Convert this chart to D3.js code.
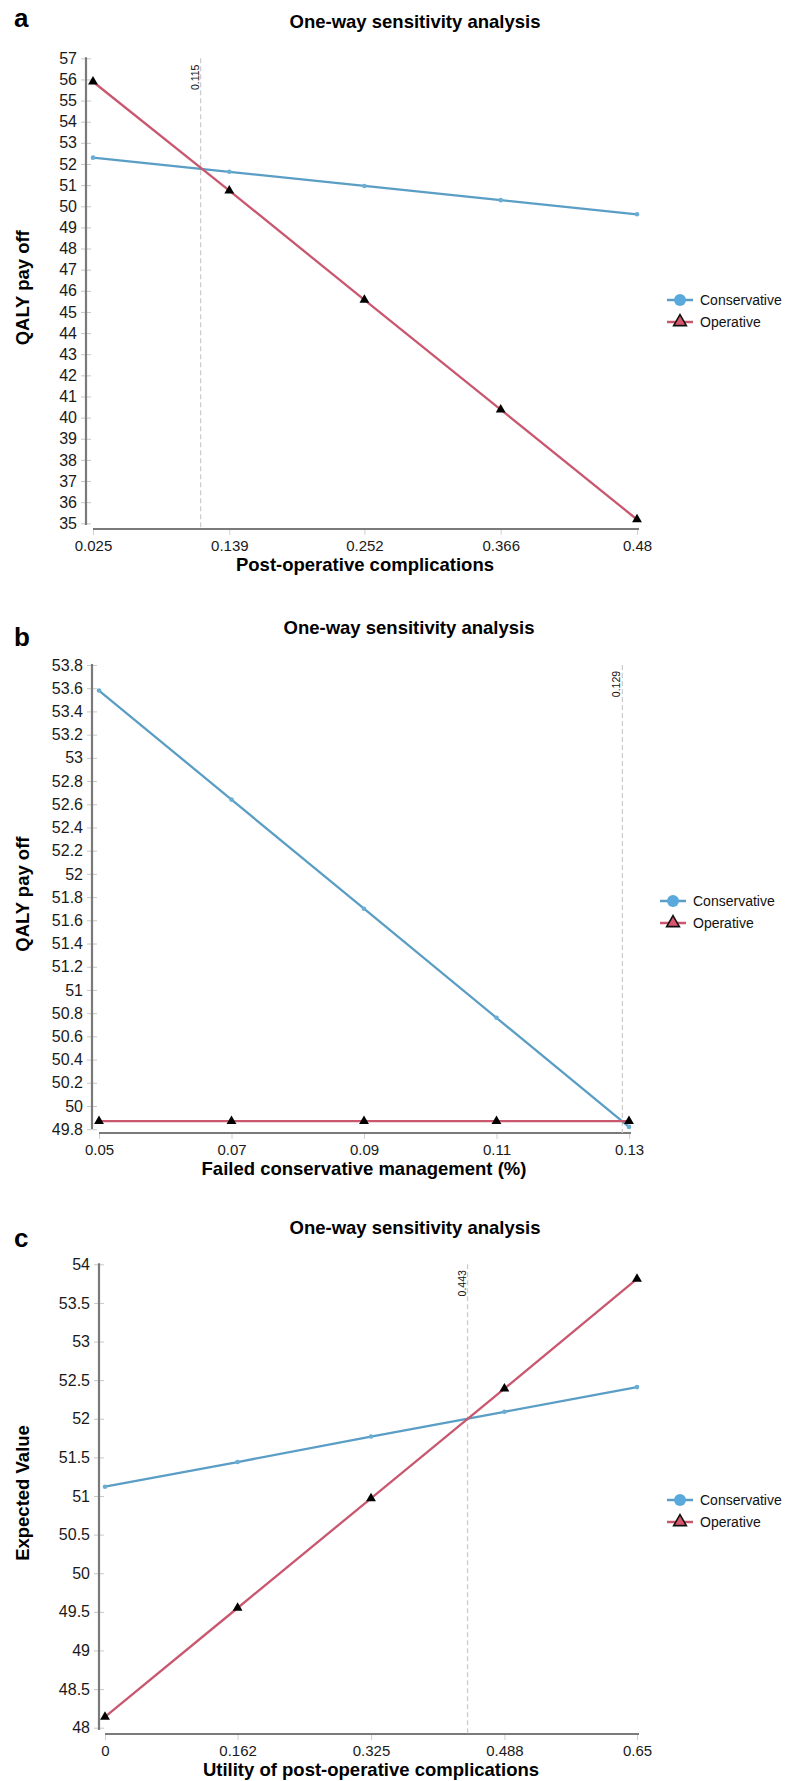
<!DOCTYPE html>
<html>
<head>
<meta charset="utf-8">
<script src="https://cdn.jsdelivr.net/npm/d3@7"></script>
<style>
  body { margin: 0; background: #fff; }
  svg text { font-family: "Liberation Sans", Arial, sans-serif; }
</style>
</head>
<body>
<div class="charts"></div>
<script>
// series names (same in all three panels)
const SERIES = ["Conservative", "Operative"];

// panel a - post-operative complications
const xTicksA = [0.025, 0.139, 0.252, 0.366, 0.48];
const yTicksA = [35, 36, 37, 38, 39, 40, 41, 42, 43, 44, 45, 46, 47, 48, 49, 50, 51, 52, 53, 54, 55, 56, 57];
const consA = [52.30, 51.63, 50.96, 50.29, 49.62];
const operA = [55.89, 50.74, 45.57, 40.38, 35.18];
const breakA = 0.115;

// panel b - failed conservative management
const xTicksB = [0.05, 0.07, 0.09, 0.11, 0.13];
const yTicksB = [49.8, 50, 50.2, 50.4, 50.6, 50.8, 51, 51.2, 51.4, 51.6, 51.8, 52, 52.2, 52.4, 52.6, 52.8, 53, 53.2, 53.4, 53.6, 53.8];
const consB = [53.58, 52.64, 51.70, 50.76, 49.82];
const operB = [49.87, 49.87, 49.87, 49.87, 49.87];
const breakB = 0.129;

// panel c - utility of post-operative complications
const xTicksC = [0, 0.162, 0.325, 0.488, 0.65];
const yTicksC = [48, 48.5, 49, 49.5, 50, 50.5, 51, 51.5, 52, 52.5, 53, 53.5, 54];
const consC = [51.12, 51.44, 51.77, 52.09, 52.41];
const operC = [48.14, 49.55, 50.97, 52.39, 53.81];
const breakC = 0.443;

const COLORS = { Conservative: "#5a9ec5", Operative: "#c9586f" };

const SVG = d3.select(".charts").append("svg")
  .attr("width", 801)
  .attr("height", 1781);

SVG.append("rect").attr("width", 801).attr("height", 1781).attr("fill", "#fff");

const PANELS = [
  { letter: "a", letterY: 27, title: "One-way sensitivity analysis", titleX: 415, titleY: 28,
    xTicks: xTicksA, yTicks: yTicksA, cons: consA, oper: operA, brk: breakA,
    xLabel: "Post-operative complications", yLabel: "QALY pay off",
    axisX: 86, xRange: [93, 637], yRange: [523.3, 58.3], xAxisY: 529,
    legX: 667, legY: 300 },
  { letter: "b", letterY: 646, title: "One-way sensitivity analysis", titleX: 409, titleY: 634,
    xTicks: xTicksB, yTicks: yTicksB, cons: consB, oper: operB, brk: breakB,
    xLabel: "Failed conservative management (%)", yLabel: "QALY pay off",
    axisX: 92, xRange: [99, 629], yRange: [1129.2, 665], xAxisY: 1133,
    legX: 660, legY: 901 },
  { letter: "c", letterY: 1247, title: "One-way sensitivity analysis", titleX: 415, titleY: 1234,
    xTicks: xTicksC, yTicks: yTicksC, cons: consC, oper: operC, brk: breakC,
    xLabel: "Utility of post-operative complications", yLabel: "Expected Value",
    axisX: 99, xRange: [105, 637], yRange: [1727.7, 1264.3], xAxisY: 1734,
    legX: 667, legY: 1500 }
];

function drawPanel(p) {
  const x = d3.scaleLinear()
    .domain([p.xTicks[0], p.xTicks[p.xTicks.length - 1]])
    .range(p.xRange);
  const y = d3.scaleLinear()
    .domain([p.yTicks[0], p.yTicks[p.yTicks.length - 1]])
    .range(p.yRange);
  const g = SVG.append("g");

  // panel letter + title
  g.append("text").attr("x", 14).attr("y", p.letterY)
    .attr("font-size", 26).attr("font-weight", "bold").attr("fill", "#000")
    .text(p.letter);
  g.append("text").attr("x", p.titleX).attr("y", p.titleY)
    .attr("text-anchor", "middle").attr("font-size", 18.5).attr("font-weight", "bold")
    .text(p.title);

  // y axis ticks and labels
  const yAxis = g.append("g")
    .attr("transform", `translate(${p.axisX},0)`)
    .call(d3.axisLeft(y).tickValues(p.yTicks).tickSize(5).tickPadding(4)
      .tickFormat(d => String(+d.toFixed(1))));
  yAxis.select(".domain").remove();
  yAxis.selectAll(".tick line").attr("x1", -5).attr("x2", 5).attr("stroke", "#c8c8c8");
  yAxis.selectAll(".tick text").attr("font-size", 16).attr("fill", "#1a1a1a")
    .attr("font-family", "Liberation Sans, Arial, sans-serif");

  // x axis ticks and labels
  const xAxis = g.append("g")
    .attr("transform", `translate(0,${p.xAxisY})`)
    .call(d3.axisBottom(x).tickValues(p.xTicks).tickSize(6).tickPadding(5)
      .tickFormat(d => String(d)));
  xAxis.select(".domain").remove();
  xAxis.selectAll(".tick line").attr("stroke", "#cfcfcf");
  xAxis.selectAll(".tick text").attr("font-size", 15).attr("fill", "#1a1a1a")
    .attr("font-family", "Liberation Sans, Arial, sans-serif");

  // axis lines (they don't quite meet in the original)
  g.append("line")
    .attr("x1", p.axisX).attr("x2", p.axisX)
    .attr("y1", y.range()[1] - 1).attr("y2", p.xAxisY - 4)
    .attr("stroke", "#7a7a7a").attr("stroke-width", 2.2);
  g.append("line")
    .attr("x1", x.range()[0]).attr("x2", x.range()[1] + 2)
    .attr("y1", p.xAxisY).attr("y2", p.xAxisY)
    .attr("stroke", "#7a7a7a").attr("stroke-width", 2.2);

  // threshold line
  const bx = x(p.brk);
  g.append("line")
    .attr("x1", bx).attr("x2", bx)
    .attr("y1", y.range()[1]).attr("y2", p.xAxisY)
    .attr("stroke", "#cdcdcd").attr("stroke-width", 1.3)
    .attr("stroke-dasharray", "5,3");
  g.append("text")
    .attr("transform", `translate(${bx - 2},${y.range()[1] + 19}) rotate(-90)`)
    .attr("text-anchor", "middle").attr("font-size", 10.5).attr("fill", "#111")
    .text(String(p.brk));

  // axis titles
  g.append("text")
    .attr("x", (p.xRange[0] + p.xRange[1]) / 2).attr("y", p.xAxisY + 42)
    .attr("text-anchor", "middle").attr("font-size", 18.5).attr("font-weight", "bold")
    .text(p.xLabel);
  g.append("text")
    .attr("transform", `translate(29,${(p.yRange[0] + p.yRange[1]) / 2 - 3}) rotate(-90)`)
    .attr("text-anchor", "middle").attr("font-size", 18.5).attr("font-weight", "bold")
    .text(p.yLabel);

  // series lines
  const line = d3.line()
    .x((d, i) => x(p.xTicks[i]))
    .y(d => y(d));
  g.append("path").datum(p.cons)
    .attr("d", line).attr("fill", "none")
    .attr("stroke", COLORS.Conservative).attr("stroke-width", 2.3);
  g.append("path").datum(p.oper)
    .attr("d", line).attr("fill", "none")
    .attr("stroke", COLORS.Operative).attr("stroke-width", 2.3);

  // markers
  g.selectAll(".cdot").data(p.cons).join("circle")
    .attr("cx", (d, i) => x(p.xTicks[i])).attr("cy", d => y(d))
    .attr("r", 2.3).attr("fill", "#6aaed6");
  g.selectAll(".otri").data(p.oper).join("path")
    .attr("transform", (d, i) => `translate(${x(p.xTicks[i])},${y(d)})`)
    .attr("d", d3.symbol(d3.symbolTriangle, 42)())
    .attr("fill", "#000");

  // legend
  const leg = g.append("g").attr("transform", `translate(${p.legX},${p.legY})`);
  SERIES.forEach((s, i) => {
    const row = leg.append("g").attr("transform", `translate(0,${i * 22})`);
    row.append("line").attr("x1", 0).attr("x2", 26).attr("y1", 0).attr("y2", 0)
      .attr("stroke", COLORS[s]).attr("stroke-width", 2.5);
    if (s === "Conservative") {
      row.append("circle").attr("cx", 13).attr("cy", 0).attr("r", 6).attr("fill", "#5aa9dc");
    } else {
      row.append("path").attr("transform", "translate(13,0)")
        .attr("d", d3.symbol(d3.symbolTriangle, 70)())
        .attr("fill", "#d9566f").attr("stroke", "#111").attr("stroke-width", 1.6);
    }
    row.append("text").attr("x", 33).attr("y", 0).attr("dy", "0.35em")
      .attr("font-size", 14).attr("fill", "#111").text(s);
  });
}

PANELS.forEach(drawPanel);
</script>
</body>
</html>
